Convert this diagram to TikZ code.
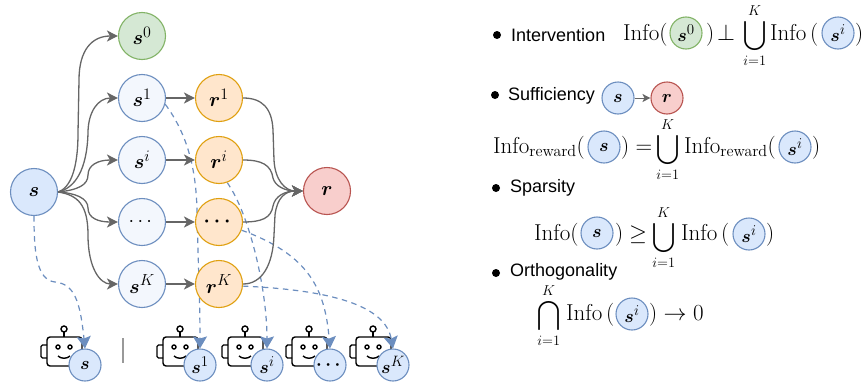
\documentclass[tikz,border=0pt]{standalone}
\usepackage{fix-cm}
\usepackage{exscale}
\usepackage{amsmath,bm}
\usepackage[no-math]{fontspec}
\setsansfont{Liberation Sans}
\usepackage{pgf,tikz}
\usetikzlibrary{arrows.meta, backgrounds}
\DeclareMathSizes{20}{20}{16}{12}
\DeclareMathSizes{18}{18}{15}{11}
\definecolor{bluefill}{HTML}{DAE8FC}
\definecolor{bluelight}{HTML}{F3F7FD}
\definecolor{blueline}{HTML}{6C8EBF}
\definecolor{greenfill}{HTML}{D5E8D4}
\definecolor{greenline}{HTML}{82B366}
\definecolor{orangefill}{HTML}{FFE6CC}
\definecolor{orangeline}{HTML}{E0A010}
\definecolor{redfill}{HTML}{F8CECC}
\definecolor{redline}{HTML}{B85450}
\definecolor{arrowgray}{HTML}{666666}
\tikzstyle{bignode} = [circle, minimum size=47pt, inner sep=0pt, line width=1.1pt, font=\fontsize{20}{24}\selectfont]
\tikzstyle{sbase} = [bignode, fill=bluefill, draw=blueline]
\tikzstyle{spart} = [bignode, fill=bluelight, draw=blueline]
\tikzstyle{sblock} = [bignode, fill=greenfill, draw=greenline]
\tikzstyle{rpart} = [bignode, fill=orangefill, draw=orangeline]
\tikzstyle{rsum} = [bignode, fill=redfill, draw=redline]
\tikzstyle{small} = [circle, minimum size=32pt, inner sep=0pt, line width=1.1pt, fill=bluefill, draw=blueline, font=\fontsize{18}{22}\selectfont]
\tikzstyle{smallgreen} = [small, fill=greenfill, draw=greenline]
\tikzstyle{smallred} = [small, fill=redfill, draw=redline]
\tikzstyle{arrow} = [line width=1.3pt, draw=arrowgray, -{Stealth[length=11pt, width=11pt, inset=3pt, color=arrowgray]}]
\tikzstyle{dasharrow} = [line width=1.2pt, draw=blueline, dash pattern=on 5.5pt off 4.5pt, -{Stealth[length=12pt, width=14pt, inset=2pt, color=blueline]}]
\tikzstyle{formula} = [inner sep=0pt, anchor=base west, font=\fontsize{23}{27}\selectfont]
\tikzstyle{bigsign} = [inner sep=0pt, anchor=base west, font=\fontsize{20.5}{24}\selectfont]
\tikzstyle{label} = [inner sep=0pt, anchor=west, font=\fontsize{18}{22}\selectfont\sffamily]
\tikzstyle{dot} = [circle, fill=black, minimum size=8pt, inner sep=0pt]
\tikzstyle{bot} = [line width=1.4pt, draw=black]

\begin{document}
\begin{tikzpicture}[x=1pt, y=-1pt, node distance = 62pt]
        \useasboundingbox (0,0) rectangle (864,383);

        \node (s) [sbase] at (34,192) {$\bm{s}$};
        \node (szero) [sblock] at (142,36) {$\bm{s}^{0}$};
        \node (sone) [spart, below of = szero] {$\bm{s}^{1}$};
        \node (si) [spart, below of = sone] {$\bm{s}^{i}$};
        \node (sdots) [spart, below of = si] {$\cdots$};
        \node (sk) [spart, below of = sdots] {$\bm{s}^{K}$};
        \node (rone) [rpart, right of = sone, node distance = 77pt] {$\bm{r}^{1}$};
        \node (ri) [rpart, right of = si, node distance = 77pt] {$\bm{r}^{i}$};
        \node (rdots) [rpart, right of = sdots, node distance = 77pt] {$\bm{\cdots}$};
        \node (rk) [rpart, right of = sk, node distance = 77pt] {$\bm{r}^{K}$};
        \node (r) [rsum] at (327,191) {$\bm{r}$};

        \node (botbase) [small] at (85,365) {$\bm{s}$};
        \node (botone) [small] at (200,365) {$\bm{s}^{1}$};
        \node (boti) [small] at (267,365) {$\bm{s}^{i}$};
        \node (botdots) [small] at (330,365) {$\bm{\cdots}$};
        \node (botk) [small] at (393,365) {$\bm{s}^{K}$};

        % robots and dashed lines stay behind the circles
        \begin{pgfonlayer}{background}
        \foreach \robotx in {0,116,181,245,309} {
            \begin{scope}[shift={(\robotx,0)}]
                \draw [bot, rounded corners=3pt] (47,337) rectangle (82,366);
                \draw [bot, rounded corners=1.5pt] (47,345) -- (41,345) -- (41,358) -- (47,358);
                \draw [bot] (64,337) -- (64,332);
                \draw [bot] (64,329) circle (3pt);
                \draw [bot] (58,347) circle (2pt);
                \draw [bot] (70,347) circle (2pt);
                \draw [bot] (58,356) .. controls (61,359) and (67,359) .. (70,356);
            \end{scope}
        }
        \draw [dasharrow] (s.south) .. controls (34,250) and (36,280) .. (55,282) .. controls (74,284) and (80,300) .. (botbase.north);
        \draw [dasharrow] (sone.-15) .. controls (188,135) and (196,170) .. (197,210) .. controls (198,260) and (200,300) .. (botone.north);
        \draw [dasharrow] (ri.-70) .. controls (250,215) and (267,290) .. (boti.north);
        \draw [dasharrow] (rdots.-20) .. controls (310,255) and (325,290) .. (botdots.north);
        \draw [dasharrow] (rk.-5) .. controls (330,290) and (385,305) .. (botk.north);
        \end{pgfonlayer}

        \draw [arrow] (s.east) .. controls (70,188) and (78,170) .. (78,133) -- (79,80) .. controls (79,50) and (92,36) .. (szero.west);
        \draw [arrow] (s.east) .. controls (75,188) and (87,170) .. (88,133) .. controls (88,112) and (98,98) .. (sone.west);
        \draw [arrow] (s.east) .. controls (78,190) and (88,185) .. (88,175) .. controls (88,165) and (98,160) .. (si.west);
        \draw [arrow] (s.east) .. controls (75,193) and (88,198) .. (88,208) .. controls (88,218) and (98,222) .. (sdots.west);
        \draw [arrow] (s.east) .. controls (78,195) and (88,205) .. (88,235) .. controls (88,268) and (100,284) .. (sk.west);
        \draw [arrow] (sone) -- (rone);
        \draw [arrow] (si) -- (ri);
        \draw [arrow] (sdots) -- (rdots);
        \draw [arrow] (sk) -- (rk);
        \draw [arrow] (rone.east) .. controls (262,98) and (272,108) .. (273,130) -- (274,160) .. controls (275,180) and (285,191) .. (r.west);
        \draw [arrow] (ri.east) .. controls (262,160) and (271,165) .. (273,178) .. controls (275,186) and (285,191) .. (r.west);
        \draw [arrow] (rdots.east) .. controls (262,222) and (271,218) .. (273,206) .. controls (275,196) and (285,191) .. (r.west);
        \draw [arrow] (rk.east) .. controls (262,284) and (273,265) .. (274,235) -- (275,215) .. controls (277,198) and (285,191) .. (r.west);

        \draw [line width=1.8pt, draw=black!40] (123,338) -- (123,363);

        % right column, row by row
        \node (dotone) [dot] at (497,35) {};
        \node (intervention) [label] at (511,35) {Intervention};
        \node (infozero) [formula] at (623,40) {$\mathrm{Info}($};
        \node (circzero) [smallgreen] at (686,33) {$\bm{s}^{0}$};
        \node (closezero) [formula] at (706,40) {$)$};
        \node (perp) [formula] at (717,40) {$\perp$};
        \node (unionone) [bigsign] at (743,41) {$\displaystyle\bigcup_{i=1}^{K}$};
        \node (infoone) [formula] at (770,40) {$\mathrm{Info}\,($};
        \node (circione) [small] at (838,33) {$\bm{s}^{i}$};
        \node (closeione) [formula] at (855,40) {$)$};

        \node (dottwo) [dot] at (495,95) {};
        \node (sufficiency) [label] at (508,96) {Sufficiency};
        \node (circs) [small] at (618,98) {$\bm{s}$};
        \node (circr) [smallred] at (667,98) {$\bm{r}$};
        \draw [arrow, line width=1pt, -{Stealth[length=8pt, width=8pt, inset=2pt, color=arrowgray]}] (circs) -- (circr);

        \node (inforeward) [formula] at (493,153) {$\mathrm{Info}_{\mathrm{reward}}($};
        \node (circsthree) [small] at (604,147) {$\bm{s}$};
        \node (equals) [formula] at (621,153) {$)=$};
        \node (uniontwo) [bigsign] at (656,155) {$\displaystyle\bigcup_{i=1}^{K}$};
        \node (inforewardtwo) [formula] at (684,153) {$\mathrm{Info}_{\mathrm{reward}}($};
        \node (circithree) [small] at (795,147) {$\bm{s}^{i}$};
        \node (closethree) [formula] at (812,153) {$)$};

        \node (dotthree) [dot] at (496,188) {};
        \node (sparsity) [label] at (510,188) {Sparsity};
        \node (infofour) [formula] at (534,240) {$\mathrm{Info}($};
        \node (circsfour) [small] at (597,233) {$\bm{s}$};
        \node (closefour) [formula] at (615,240) {$)$};
        \node (geq) [formula] at (629,240) {$\geq$};
        \node (unionthree) [bigsign] at (652,243) {$\displaystyle\bigcup_{i=1}^{K}$};
        \node (infofive) [formula] at (681,240) {$\mathrm{Info}\,($};
        \node (circifour) [small] at (749,234) {$\bm{s}^{i}$};
        \node (closefourb) [formula] at (766,240) {$)$};

        \node (dotfour) [dot] at (496,273) {};
        \node (orthogonality) [label] at (510,272) {Orthogonality};
        \node (intersect) [bigsign] at (537,321) {$\displaystyle\bigcap_{i=1}^{K}$};
        \node (infosix) [formula] at (566,320) {$\mathrm{Info}\,($};
        \node (circifive) [small] at (632,314) {$\bm{s}^{i}$};
        \node (closefive) [formula] at (649,320) {$)\rightarrow 0$};
    \end{tikzpicture}
\end{document}
